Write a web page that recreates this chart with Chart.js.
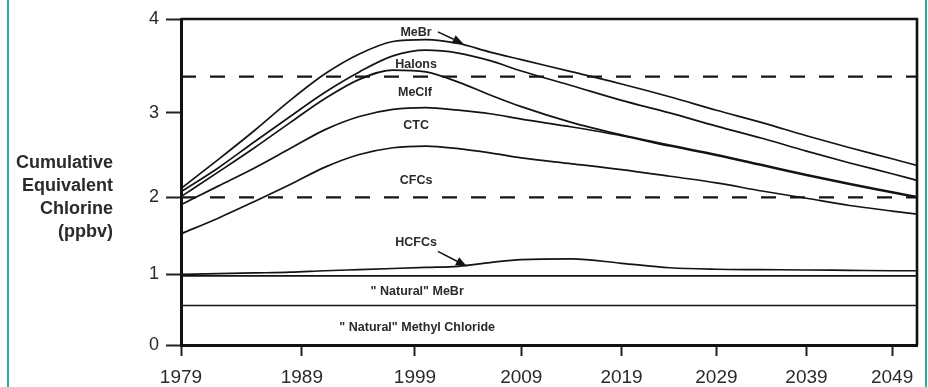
<!DOCTYPE html>
<html><head><meta charset="utf-8">
<script src="https://cdn.jsdelivr.net/npm/chart.js"></script>
<style>
html,body{margin:0;padding:0;background:#fff;}
#wrap{position:relative;width:928px;height:387px;overflow:hidden;background:#fff;}
#c{position:absolute;left:0;top:0;}
.edge{position:absolute;top:0;width:2px;height:387px;background:#23b29c;}
</style></head><body>
<div id="wrap"><canvas id="c" width="928" height="387"></canvas>
<div class="edge" style="left:7px"></div><div class="edge" style="left:925px"></div></div>
<script>
// ---- data ----
const years        = [1979,1982,1985,1988,1991,1994,1997,2000,2003,2006,2009,2014,2019,2024,2029,2034,2039,2044,2049,2052];
const mebrTotal    = [2.11,2.46,2.80,3.14,3.43,3.64,3.77,3.79,3.75,3.66,3.58,3.45,3.32,3.18,3.03,2.89,2.74,2.60,2.47,2.39];
const halons       = [2.07,2.36,2.67,2.96,3.23,3.45,3.62,3.68,3.65,3.57,3.46,3.30,3.14,3.00,2.85,2.71,2.56,2.42,2.29,2.21];
const methylChlf   = [2.01,2.31,2.60,2.89,3.16,3.37,3.47,3.45,3.34,3.20,3.07,2.89,2.75,2.63,2.52,2.40,2.28,2.17,2.07,2.01];
const ctc          = [1.91,2.14,2.36,2.59,2.81,2.96,3.04,3.06,3.03,2.99,2.93,2.84,2.74,2.62,2.51,2.39,2.27,2.16,2.06,2.00];
const cfcs         = [1.54,1.74,1.95,2.16,2.37,2.52,2.60,2.62,2.59,2.54,2.48,2.41,2.34,2.26,2.18,2.08,1.99,1.90,1.83,1.79];
const hcfcs        = [1.00,1.01,1.02,1.03,1.05,1.065,1.08,1.095,1.11,1.16,1.20,1.21,1.15,1.09,1.07,1.065,1.06,1.055,1.05,1.05];
const levelYears   = [1979,2052];
const naturalMeBr  = [0.98,0.98];
const naturalMeCl  = [0.57,0.57];
const upperLevel   = [3.4,3.4];
const lowerLevel   = [2.0,2.0];
const xTickYears   = [1979,1989,1999,2009,2019,2029,2039,2049];
const yTickValues  = [0,1,2,3,4];
const yTitleLines  = ['Cumulative','Equivalent','Chlorine','(ppbv)'];
const labelTexts   = ['MeBr','Halons','MeClf','CTC','CFCs','HCFCs','" Natural" MeBr','" Natural" Methyl Chloride'];

// ---- annotation placement (data coordinates) ----
const labelAnchors = [[1999.1,3.86],[1999.1,3.53],[1999.0,3.23],[1999.1,2.86],[1999.1,2.21],[1999.1,1.43],[1999.2,0.77],[1999.2,0.26]];
const arrows = [{from:[2001.1,3.87], to:[2003.5,3.745]}, {from:[2001.1,1.31], to:[2003.8,1.11]}];

// ---- a linear scale whose spacing follows the scanned figure ----
class WarpScale extends Chart.LinearScale {
  static id = 'warp';
  static defaults = {};
  _g(s){ const k=this.options.warpK; return Math.log(1+s*k)/Math.log(1+k); }
  _gi(u){ const k=this.options.warpK; return (Math.exp(u*Math.log(1+k))-1)/k; }
  _warp(t){ if(!this.options.warpK) return t; return this.options.warpMirror ? 1-this._g(1-t) : this._g(t); }
  _unwarp(d){ if(!this.options.warpK) return d; return this.options.warpMirror ? 1-this._gi(1-d) : this._gi(d); }
  getPixelForValue(value){
    if (value === null || value === undefined || isNaN(value)) return NaN;
    const t = (value - this.min) / (this.max - this.min);
    return this.getPixelForDecimal(this._warp(t));
  }
  getValueForPixel(pixel){
    const d = this.getDecimalForPixel(pixel);
    return this.min + this._unwarp(d) * (this.max - this.min);
  }
}
Chart.register(WarpScale);

const FONT = '"Liberation Sans", Arial, Helvetica, sans-serif';
const INK = '#141414';
const TXT = '#2a2a2a';

const pts = (xs, ys) => ys.map((v,i)=>({x:xs[i], y:v}));
const curve = (vals) => ({data: pts(years, vals), borderColor: INK, borderWidth: 1.7, pointRadius: 0, fill: false, cubicInterpolationMode: 'monotone'});
const flat  = (vals, dash) => ({data: pts(levelYears, vals), borderColor: INK, borderWidth: dash ? 2.2 : 1.7, borderDash: dash ? [15,14] : [], pointRadius: 0, fill: false});

const decor = {
  id: 'decor',
  afterDatasetsDraw(chart){
    const {ctx, chartArea:a, scales:{x, y}} = chart;
    ctx.save();
    // frame top + right
    ctx.strokeStyle = '#111'; ctx.lineWidth = 2.6;
    ctx.beginPath(); ctx.moveTo(a.left, a.top); ctx.lineTo(a.right, a.top); ctx.lineTo(a.right, a.bottom); ctx.stroke();
    // in-plot labels
    ctx.fillStyle = TXT; ctx.font = 'bold 12.5px ' + FONT; ctx.textAlign = 'center'; ctx.textBaseline = 'middle';
    labelTexts.forEach((t,i)=>{ ctx.fillText(t, x.getPixelForValue(labelAnchors[i][0]), y.getPixelForValue(labelAnchors[i][1])); });
    // arrows
    ctx.strokeStyle = INK; ctx.fillStyle = INK; ctx.lineWidth = 1.5;
    arrows.forEach(ar=>{
      const x0 = x.getPixelForValue(ar.from[0]), y0 = y.getPixelForValue(ar.from[1]);
      const x1 = x.getPixelForValue(ar.to[0]),   y1 = y.getPixelForValue(ar.to[1]);
      const ang = Math.atan2(y1-y0, x1-x0), L = 11, W = 4.5;
      const bx = x1 - L*Math.cos(ang), by = y1 - L*Math.sin(ang);
      ctx.beginPath(); ctx.moveTo(x0,y0); ctx.lineTo(bx,by); ctx.stroke();
      ctx.beginPath(); ctx.moveTo(x1,y1);
      ctx.lineTo(bx + W*Math.sin(ang), by - W*Math.cos(ang));
      ctx.lineTo(bx - W*Math.sin(ang), by + W*Math.cos(ang));
      ctx.closePath(); ctx.fill();
    });
    // y-axis title (horizontal, right aligned)
    ctx.fillStyle = TXT; ctx.font = 'bold 18px ' + FONT; ctx.textAlign = 'right';
    yTitleLines.forEach((t,i)=> ctx.fillText(t, 113, 163 + i*23));
    ctx.restore();
  }
};

new Chart(document.getElementById('c'), {
  type: 'line',
  data: { datasets: [
    curve(mebrTotal), curve(halons), curve(methylChlf), curve(ctc), curve(cfcs), curve(hcfcs),
    flat(naturalMeBr,false), flat(naturalMeCl,false), flat(upperLevel,true), flat(lowerLevel,true)
  ]},
  options: {
    responsive: false, animation: false, events: [],
    layout: { padding: { top: 19, right: 11, bottom: 0, left: 0 } },
    plugins: { legend: {display:false}, tooltip: {enabled:false}, title: {display:false} },
    scales: {
      x: {
        type: 'warp', position: 'bottom', min: 1979, max: 2052, warpK: 73/141,
        afterBuildTicks: s => { s.ticks = xTickYears.map(v=>({value:v})); },
        afterFit: s => { s.height = 42; },
        grid: { drawOnChartArea: false, drawTicks: true, tickLength: 11, tickWidth: 2, tickColor: '#222' },
        border: { display: true, color: '#111', width: 3 },
        ticks: { font: {family: FONT, size: 19}, color: TXT, padding: 10, maxRotation: 0, autoSkip: false, callback: v => String(v) }
      },
      y: {
        type: 'warp', position: 'left', min: 0, max: 4, warpK: 4/8.6, warpMirror: true,
        afterBuildTicks: s => { s.ticks = yTickValues.map(v=>({value:v})); },
        afterFit: s => { s.width = 181; },
        grid: { drawOnChartArea: false, drawTicks: true, tickLength: 15, tickWidth: 2, tickColor: '#222' },
        border: { display: true, color: '#111', width: 3 },
        ticks: { font: {family: FONT, size: 18}, color: TXT, padding: 7, callback: v => String(v) }
      }
    }
  },
  plugins: [decor]
});
</script>
</body></html>
